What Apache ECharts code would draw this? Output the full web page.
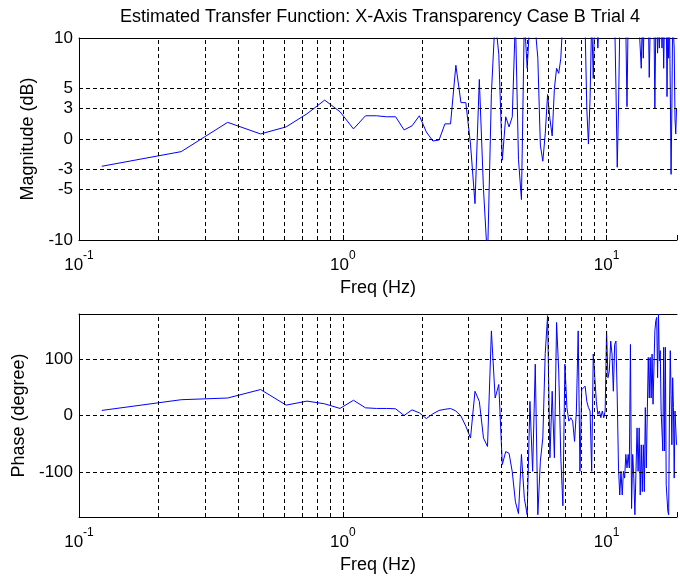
<!DOCTYPE html>
<html>
<head>
<meta charset="utf-8">
<script src="https://cdn.jsdelivr.net/npm/echarts@6/dist/echarts.min.js"></script>
<style>html,body{margin:0;padding:0;background:#fff}#c{width:680px;height:577px}</style>
</head>
<body>
<div id="c"></div>
<script>
const titleText = 'Estimated Transfer Function: X-Axis Transparency Case B Trial 4';
const freq = [0.122,0.244,0.366,0.488,0.61,0.732,0.854,0.976,1.098,1.22,1.342,1.464,1.586,1.708,1.83,1.952,2.074,2.196,2.318,2.44,2.562,2.684,2.806,2.928,3.05,3.172,3.294,3.416,3.538,3.66,3.782,3.904,4.026,4.148,4.27,4.392,4.514,4.636,4.758,4.88,5.002,5.124,5.246,5.368,5.49,5.612,5.734,5.856,5.978,6.1,6.222,6.344,6.466,6.588,6.71,6.832,6.954,7.076,7.198,7.32,7.442,7.564,7.686,7.808,7.93,8.052,8.174,8.296,8.418,8.54,8.662,8.784,8.906,9.028,9.15,9.272,9.394,9.516,9.638,9.76,9.882,10.004,10.126,10.248,10.37,10.492,10.614,10.736,10.858,10.98,11.102,11.224,11.346,11.468,11.59,11.712,11.834,11.956,12.078,12.2,12.322,12.444,12.566,12.688,12.81,12.932,13.054,13.176,13.298,13.42,13.542,13.664,13.786,13.908,14.03,14.152,14.274,14.396,14.518,14.64,14.762,14.884,15.006,15.128,15.25,15.372,15.494,15.616,15.738,15.86,15.982,16.104,16.226,16.348,16.47,16.592,16.714,16.836,16.958,17.08,17.202,17.324,17.446,17.568,17.69,17.812,17.934,18.056,18.178,18.3,18.422];
const magnitude = [
-2.7,-1.25,1.65,0.5,1.2,2.5,3.85,2.7,1.0,2.3,
2.3,2.2,2.2,0.9,1.3,2.3,0.7,-0.2,-0.1,1.5,
1.5,7.3,3.6,3.6,-0.5,-6.4,5.9,-5.0,-12,4.5,
12,8.4,-2.1,2.2,1.2,2.2,12,-2,-6,12,
7,12,13,11,8,-0.6,-2.2,0.5,4.4,2,
0.3,5,7,6.5,8,12,14,11,13,15,
12,11,13,12,14,11,12,11,3,-0.5,
4,12,6,13,12,9,12,14,13,12,
15,12,13,11,14,12,13,12,5,-2.8,
3,11,13,12,14,12,11,3.2,12,13,
14,12,13,12,15,12,13,12,11,11,
7,12,8,13,12,14,12,13,6.1,11,
13,12,14,12,3,11,13,8.5,12,9,
12,13,9,12,7,12,11,13,4.2,12,
8,12,5,-3.5,3,12,12,9,2,0.5,3];
const phase = [
9,28,31,46,18.4,25.5,20.7,12.5,27,13.6,
12.5,12.5,11.9,0,10,4.7,-5.4,3,9,11,
12.4,8,-1,-19,-40,43,25,-40,-55,150,
31,55,-87,-64,-67,-100,-153,-174,-69,-147,
-176,25,-99,91,-176,-81,-40,110,177,-75,
43,-75,165,79,-75,-160,91,14,-10,-4,
-10,-46,8,150,-99,46,49,52,25,14,
8,-99,109,67,25,2,8,-4,8,-4,
8,150,67,79,132,109,43,126,132,31,
-93,-141,-99,-141,-99,-111,-69,-93,-69,-93,
126,-165,-69,-111,-176,-99,-22,-99,-22,-141,
-52,-135,-52,-135,14,-93,-93,103,31,103,
31,109,20,20,150,168,174,67,180,97,
115,8,8,-63,121,-63,121,-123,-123,-170,
-176,8,115,37,-52,67,14,-111,8,-22,-52];
const magTicks = [-10,-5,-3,0,3,5,10];
const magGridLines = [-5,-3,0,3,5];
const phaseTicks = [-100,0,100];
const freqGridLines = [0.2,0.3,0.4,0.5,0.6,0.7,0.8,0.9,1,2,3,4,5,6,7,8,9,10];
const freqMin = 0.1, freqMax = 18.5;

const FONT = '"Liberation Sans", Arial, Helvetica, sans-serif';
const chart = echarts.init(document.getElementById('c'), null, {renderer: 'canvas'});

const isDecade = v => Math.abs(Math.log10(v) - Math.round(Math.log10(v))) < 1e-6;
function xBottom(gridIndex) {
  return {
    type: 'log', logBase: 10, gridIndex, min: freqMin, max: freqMax, position: 'bottom',
    name: 'Freq (Hz)', nameLocation: 'middle', nameGap: 39,
    nameTextStyle: {fontSize: 18, color: '#000', fontFamily: FONT},
    axisLine: {show: true, onZero: false, lineStyle: {color: '#000', width: 1}},
    axisTick: {show: true, inside: true, length: 5, lineStyle: {color: '#000'}},
    splitLine: {show: false},
    axisLabel: {
      margin: 10, color: '#000', fontFamily: FONT,
      formatter: v => isDecade(v) ? '{b|10}{s|' + Math.round(Math.log10(v)) + '}' : '',
      rich: {
        b: {fontSize: 17, fontFamily: FONT, color: '#000', verticalAlign: 'bottom', lineHeight: 24},
        s: {fontSize: 12, fontFamily: FONT, color: '#000', verticalAlign: 'top', lineHeight: 12}
      }
    }
  };
}
function xTop(gridIndex) {
  return {
    type: 'log', logBase: 10, gridIndex, min: freqMin, max: freqMax, position: 'top',
    axisLine: {show: true, onZero: false, lineStyle: {color: '#000', width: 1}},
    axisTick: {show: false}, axisLabel: {show: false}, splitLine: {show: false}
  };
}
function yAx(gridIndex, min, max, interval, ticks, name, gap) {
  return {
    type: 'value', gridIndex, min, max, interval,
    name, nameLocation: 'middle', nameGap: gap,
    nameTextStyle: {fontSize: 18, color: '#000', fontFamily: FONT},
    axisLine: {show: true, onZero: false, lineStyle: {color: '#000', width: 1}},
    axisTick: {show: false},
    splitLine: {show: false},
    axisLabel: {
      margin: 6, color: '#000', fontSize: 17, fontFamily: FONT,
      formatter: v => ticks.includes(v) ? String(v) : ''
    }
  };
}
function gridSeries(xi, yi, hLines) {
  return {
    type: 'line', xAxisIndex: xi, yAxisIndex: yi, data: [[1, 0]], z: 1,
    showSymbol: false, lineStyle: {width: 0, opacity: 0}, silent: true,
    markLine: {
      silent: true, symbol: ['none', 'none'], label: {show: false}, animation: false,
      lineStyle: {color: '#000', type: [4, 3], width: 1},
      emphasis: {disabled: true},
      data: freqGridLines.map(v => ({xAxis: v})).concat(hLines.map(v => ({yAxis: v})))
    }
  };
}
const option = {
  animation: false,
  textStyle: {fontFamily: FONT},
  graphic: [{
    type: 'text', x: 380, y: 17,
    style: {text: titleText, textAlign: 'center', textVerticalAlign: 'middle', fontSize: 18, fontFamily: FONT, fill: '#000'}
  }],
  grid: [
    {left: 79, top: 38, right: 0, height: 202},
    {left: 79, top: 314, right: 0, height: 203}
  ],
  xAxis: [xBottom(0), xTop(0), xBottom(1), xTop(1)],
  yAxis: [
    yAx(0, -10, 10, 1, magTicks, 'Magnitude (dB)', 33),
    yAx(1, -180, 180, 20, phaseTicks, 'Phase (degree)', 41)
  ],
  series: [
    gridSeries(0, 0, magGridLines),
    gridSeries(2, 1, phaseTicks),
    {
      type: 'line', xAxisIndex: 0, yAxisIndex: 0, z: 3, showSymbol: false, clip: true,
      data: freq.map((f, i) => [f, magnitude[i]]),
      lineStyle: {color: '#0000ff', width: 1}, emphasis: {disabled: true}
    },
    {
      type: 'line', xAxisIndex: 2, yAxisIndex: 1, z: 3, showSymbol: false, clip: true,
      data: freq.map((f, i) => [f, phase[i]]),
      lineStyle: {color: '#0000ff', width: 1}, emphasis: {disabled: true}
    }
  ]
};
chart.setOption(option);
</script>
</body>
</html>
